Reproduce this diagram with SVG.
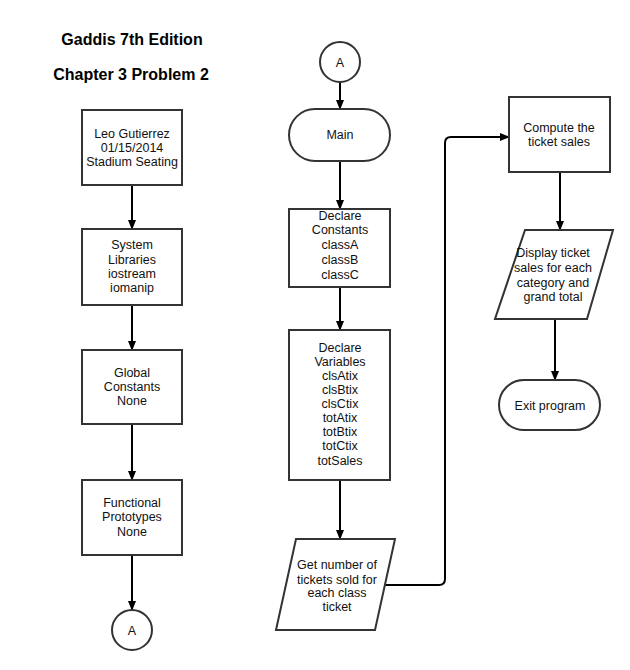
<svg xmlns="http://www.w3.org/2000/svg" width="630" height="670" viewBox="0 0 630 670">
<style>
.n{fill:#fff;stroke:#333;stroke-width:2}
.t{font-family:"Liberation Sans",Arial,sans-serif;font-size:12.5px;fill:#111;text-anchor:middle}
.h{font-family:"Liberation Sans",Arial,sans-serif;font-size:16px;font-weight:bold;fill:#000;text-anchor:middle}
.c{fill:none;stroke:#000;stroke-width:2}
</style>
<defs>
<marker id="ar" markerWidth="10" markerHeight="8" refX="9" refY="4" orient="auto" markerUnits="userSpaceOnUse">
<path d="M0,0 L10,4 L0,8 Z" fill="#000"/>
</marker>
</defs>
<rect width="630" height="670" fill="#fff"/>
<text class="h" x="132" y="45">Gaddis 7th Edition</text>
<text class="h" x="131" y="80">Chapter 3 Problem 2</text>

<g id="connectors">
<path class="c" d="M132,185 V229" marker-end="url(#ar)"/>
<path class="c" d="M132,305 V350" marker-end="url(#ar)"/>
<path class="c" d="M132,424 V480" marker-end="url(#ar)"/>
<path class="c" d="M132,555 V610" marker-end="url(#ar)"/>
<path class="c" d="M340,82 V109" marker-end="url(#ar)"/>
<path class="c" d="M340,161 V209" marker-end="url(#ar)"/>
<path class="c" d="M340,287 V330" marker-end="url(#ar)"/>
<path class="c" d="M340,480 V539" marker-end="url(#ar)"/>
<path class="c" d="M385,585 H439 Q445,585 445,579 V143 Q445,137 451,137 H509" marker-end="url(#ar)"/>
<path class="c" d="M560,172 V230" marker-end="url(#ar)"/>
<path class="c" d="M555,319 V380" marker-end="url(#ar)"/>
</g>

<g id="n1"><rect class="n" x="82" y="110" width="100" height="75"/>
<text class="t" x="132" y="138">Leo Gutierrez</text><text class="t" x="132" y="152">01/15/2014</text><text class="t" x="132" y="166">Stadium Seating</text></g>
<g id="n2"><rect class="n" x="82" y="229" width="100" height="76"/>
<text class="t" x="132" y="249">System</text><text class="t" x="132" y="264">Libraries</text><text class="t" x="132" y="278">iostream</text><text class="t" x="132" y="292">iomanip</text></g>
<g id="n3"><rect class="n" x="82" y="350" width="100" height="74"/>
<text class="t" x="132" y="377">Global</text><text class="t" x="132" y="391">Constants</text><text class="t" x="132" y="405">None</text></g>
<g id="n4"><rect class="n" x="82" y="480" width="100" height="75"/>
<text class="t" x="132" y="507">Functional</text><text class="t" x="132" y="521">Prototypes</text><text class="t" x="132" y="536">None</text></g>
<g id="n5"><circle class="n" cx="132" cy="630" r="20"/><text class="t" x="132" y="635">A</text></g>

<g id="n6"><circle class="n" cx="340" cy="62" r="20"/><text class="t" x="340" y="67">A</text></g>
<g id="n7"><rect class="n" x="289" y="109" width="101" height="52" rx="26"/><text class="t" x="340" y="139">Main</text></g>
<g id="n8"><rect class="n" x="289" y="209" width="101" height="78"/>
<text class="t" x="340" y="220">Declare</text><text class="t" x="340" y="234">Constants</text><text class="t" x="340" y="249">classA</text><text class="t" x="340" y="264">classB</text><text class="t" x="340" y="279">classC</text></g>
<g id="n9"><rect class="n" x="289" y="330" width="101" height="150"/>
<text class="t" x="340" y="352">Declare</text><text class="t" x="340" y="366">Variables</text><text class="t" x="340" y="380">clsAtix</text><text class="t" x="340" y="394">clsBtix</text><text class="t" x="340" y="408">clsCtix</text><text class="t" x="340" y="422">totAtix</text><text class="t" x="340" y="436">totBtix</text><text class="t" x="340" y="450">totCtix</text><text class="t" x="340" y="465">totSales</text></g>
<g id="n10"><polygon class="n" points="296,539 395,539 375,630 276,630"/>
<text class="t" x="337" y="569">Get number of</text><text class="t" x="337" y="584">tickets sold for</text><text class="t" x="337" y="597">each class</text><text class="t" x="337" y="611">ticket</text></g>
<g id="n11"><rect class="n" x="509" y="97" width="101" height="75"/>
<text class="t" x="559" y="132">Compute the</text><text class="t" x="559" y="146">ticket sales</text></g>
<g id="n12"><polygon class="n" points="525,230 613,230 587,319 495,319"/>
<text class="t" x="553" y="257">Display ticket</text><text class="t" x="553" y="272">sales for each</text><text class="t" x="553" y="287">category and</text><text class="t" x="553" y="301">grand total</text></g>
<g id="n13"><rect class="n" x="499" y="380" width="101" height="50" rx="25"/><text class="t" x="550" y="410">Exit program</text></g>
</svg>
